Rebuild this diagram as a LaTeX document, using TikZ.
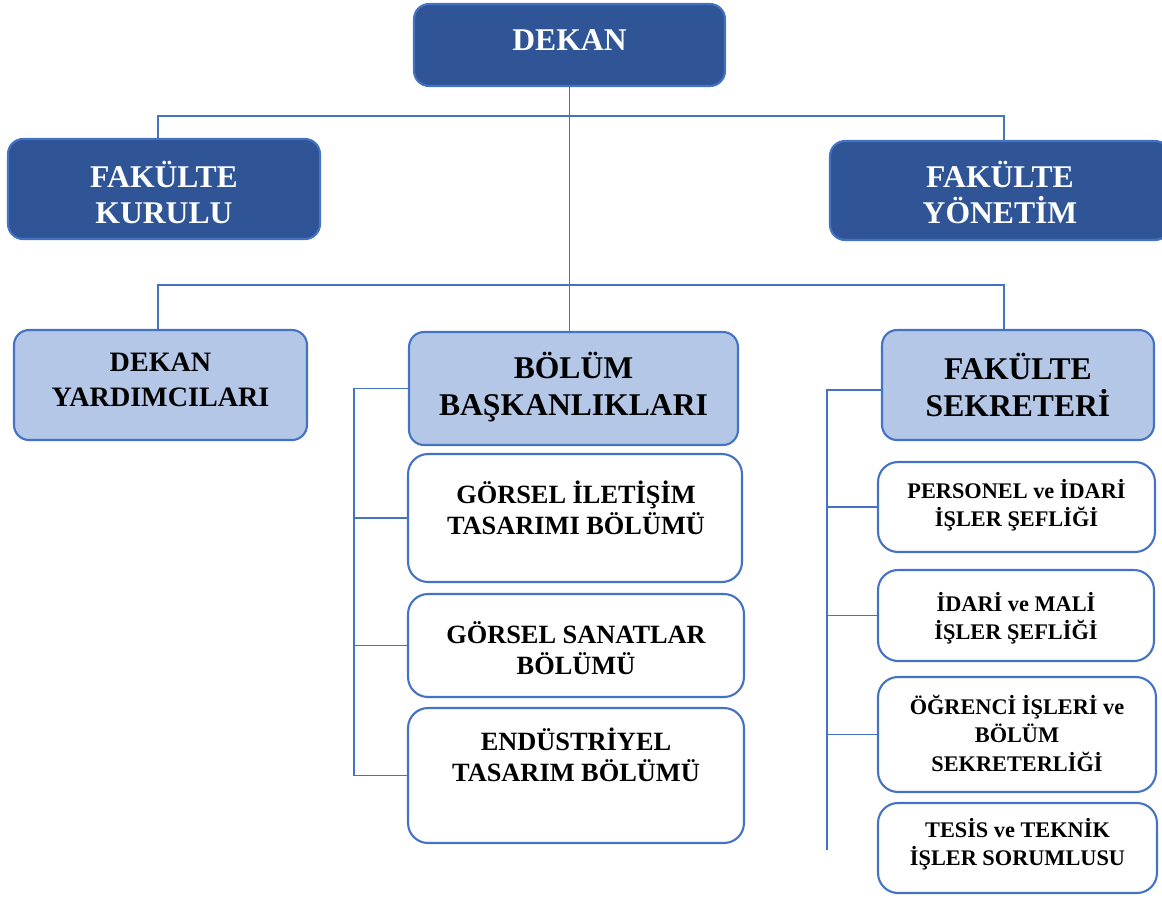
\documentclass[tikz,border=0pt]{standalone}
\usepackage{fontspec}
\setmainfont{Liberation Serif}
\definecolor{deepblue}{HTML}{2F5597}
\definecolor{lineblue}{HTML}{4472C4}
\definecolor{paleblue}{HTML}{B4C7E7}

\begin{document}
\begin{tikzpicture}[x=0.02cm,y=-0.02cm,
                    topbox/.style={rectangle, rounded corners=0.3cm, draw=lineblue, line width=1.2pt, fill=deepblue},
                    headbox/.style={rectangle, rounded corners=0.3cm, draw=lineblue, line width=1.2pt, fill=paleblue},
                    unitbox/.style={rectangle, rounded corners=0.4cm, draw=lineblue, line width=1.2pt, fill=white},
                    toptext/.style={text=white, align=center, font=\fontsize{18}{20.5}\selectfont\bfseries},
                    headtext/.style={align=center, font=\fontsize{18}{21.5}\selectfont\bfseries},
                    yardtext/.style={align=center, font=\fontsize{16}{19.8}\selectfont\bfseries},
                    unittext/.style={align=center, font=\fontsize{15}{17.6}\selectfont\bfseries},
                    smalltext/.style={align=center, font=\fontsize{12.7}{16.2}\selectfont\bfseries},
                    link/.style={draw=lineblue, line width=0.7pt}]
  \useasboundingbox (0,0) rectangle (1162,900);

  % top level
  \node (dekan) [topbox, minimum width=6.22cm, minimum height=1.64cm] at (569.5,45) {};
  \node (dekan-t) [toptext] at (569.5,40) {DEKAN};
  \node (kurul) [topbox, minimum width=6.24cm, minimum height=2cm] at (164,189) {};
  \node (kurul-t) [toptext] at (164,192) {FAKÜLTE\\KURULU};
  \node (yonetim) [topbox, minimum width=6.8cm, minimum height=1.98cm] at (1000,190.5) {};
  \node (yonetim-t) [toptext] at (1000,192) {FAKÜLTE\\YÖNETİM};

  % second level
  \node (yard) [headbox, minimum width=5.86cm, minimum height=2.2cm] at (160.5,385) {};
  \node (yard-t) [yardtext] at (160.5,380) {DEKAN\\YARDIMCILARI};
  \node (bolum) [headbox, minimum width=6.58cm, minimum height=2.26cm] at (573.5,388.5) {};
  \node (bolum-t) [headtext] at (573.5,387) {BÖLÜM\\BAŞKANLIKLARI};
  \node (sekr) [headbox, minimum width=5.44cm, minimum height=2.2cm] at (1018,385) {};
  \node (sekr-t) [headtext] at (1018,385) {FAKÜLTE\\SEKRETERİ};

  % departments
  \node (gil) [unitbox, minimum width=6.68cm, minimum height=2.56cm] at (575,518) {};
  \node (gil-t) [unittext] at (576,508) {GÖRSEL İLETİŞİM\\TASARIMI BÖLÜMÜ};
  \node (gsan) [unitbox, minimum width=6.72cm, minimum height=2.06cm] at (576,645.5) {};
  \node (gsan-t) [unittext] at (576,648) {GÖRSEL SANATLAR\\BÖLÜMÜ};
  \node (endu) [unitbox, minimum width=6.72cm, minimum height=2.7cm] at (576,775.5) {};
  \node (endu-t) [unittext] at (576,755) {ENDÜSTRİYEL\\TASARIM BÖLÜMÜ};

  % secretariat units
  \node (pers) [unitbox, minimum width=5.54cm, minimum height=1.8cm] at (1016.5,507) {};
  \node (pers-t) [smalltext] at (1016.5,505) {PERSONEL ve İDARİ\\İŞLER ŞEFLİĞİ};
  \node (idari) [unitbox, minimum width=5.52cm, minimum height=1.82cm] at (1016,615.5) {};
  \node (idari-t) [smalltext] at (1016,618) {İDARİ ve MALİ\\İŞLER ŞEFLİĞİ};
  \node (ogr) [unitbox, minimum width=5.56cm, minimum height=2.3cm] at (1017,734.5) {};
  \node (ogr-t) [smalltext] at (1017,733) {ÖĞRENCİ İŞLERİ ve\\BÖLÜM\\SEKRETERLİĞİ};
  \node (tesis) [unitbox, minimum width=5.58cm, minimum height=1.8cm] at (1017.5,848) {};
  \node (tesis-t) [smalltext] at (1017.5,844) {TESİS ve TEKNİK\\İŞLER SORUMLUSU};

  % connectors
  \coordinate (topbus) at (570,116);
  \coordinate (midbus) at (570,285);
  \draw[link] (dekan.south) -- (dekan.south |- bolum.north);
  \draw[link] ([xshift=-0.12cm]kurul.north) |- (topbus) -| ([xshift=0.08cm]yonetim.north);
  \draw[link] ([xshift=-0.05cm]yard.north) |- (midbus) -| ([xshift=0.08cm]sekr.north -| yonetim.north);

  \draw[link] (bolum.west) -- ++(-54,0) coordinate (lbar) |- (endu.west);
  \draw[link] (lbar |- gil.west) -- (gil.west);
  \draw[link] (lbar |- gsan.west) -- (gsan.west);

  \draw[link] ([yshift=-0.1cm]sekr.west) -- ++(-54,0) coordinate (rbar) -- ([yshift=-0.04cm]rbar |- tesis.west);
  \draw[link] (rbar |- pers.west) -- (pers.west);
  \draw[link] (rbar |- idari.west) -- (idari.west);
  \draw[link] (rbar |- ogr.west) -- (ogr.west);
\end{tikzpicture}
\end{document}
